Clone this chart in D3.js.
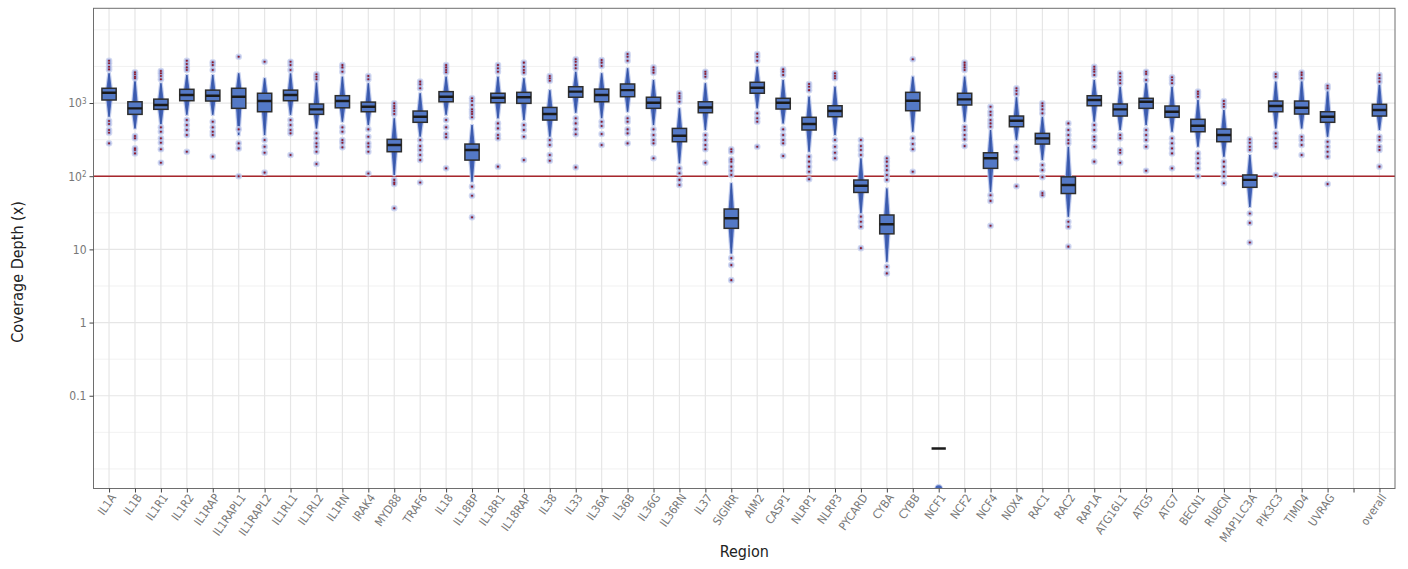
<!DOCTYPE html>
<html>
<head>
<meta charset="utf-8">
<script src="https://cdn.jsdelivr.net/npm/d3@7"></script>
<style>
  body { margin: 0; background: #fff; }
  text { font-family: "DejaVu Sans", sans-serif; font-stretch: condensed; }
</style>
</head>
<body>
<svg id="chart" width="1408" height="569"></svg>
<script>
// Regions on the x axis (a blank slot separates the genes from "overall")
const regions = ["IL1A","IL1B","IL1R1","IL1R2","IL1RAP","IL1RAPL1","IL1RAPL2","IL1RL1","IL1RL2","IL1RN",
  "IRAK4","MYD88","TRAF6","IL18","IL18BP","IL18R1","IL18RAP","IL38","IL33","IL36A",
  "IL36B","IL36G","IL36RN","IL37","SIGIRR","AIM2","CASP1","NLRP1","NLRP3","PYCARD",
  "CYBA","CYBB","NCF1","NCF2","NCF4","NOX4","RAC1","RAC2","RAP1A","ATG16L1",
  "ATG5","ATG7","BECN1","RUBCN","MAP1LC3A","PIK3C3","TIMD4","UVRAG"," ","overall"];

// Extent of the dense column of per-position depths
const spineLow = [650,450,500,690,690,365,365,690,450,555,
  500,104,346,690,84,618,585,346,737,618,
  760,500,150,428,8.8,846,527,216,365,31,
  6.8,405,0.0054,555,61,312,166,28,555,428,
  500,405,253,185,38,450,450,346,null,428];
const spineHigh = [2550,2060,1860,2410,2410,2545,2180,2545,1960,2290,
  1860,618,1360,2290,500,2290,2180,1500,2680,2545,
  2980,2060,846,1860,80,3133,2060,1220,1670,176,
  68,2290,0.0054,2290,428,1220,650,253,2060,1670,
  1960,1670,1099,802,195,1960,2060,1500,null,1860];

// Box statistics
const boxQ1 = [1100,700,820,1075,1065,846,760,1075,700,860,
  760,216,545,1040,166,1010,990,585,1200,1040,
  1220,846,296,737,19.4,1360,828,428,650,60,
  16.3,785,0.019,940,128,474,275,58,918,664,
  846,638,405,296,70.5,760,707,545,null,664];
const boxMedian = [1380,846,940,1290,1260,1220,1065,1290,820,1065,
  890,267,650,1220,228,1180,1200,707,1430,1290,
  1500,1010,357,870,26.6,1620,1010,517,777,74,
  22,1075,0.019,1120,176,573,329,76,1099,820,
  1040,760,489,365,89,910,860,650,null,802];
const boxQ3 = [1590,1040,1130,1540,1500,1590,1360,1500,970,1260,
  1030,319,777,1430,275,1360,1400,870,1670,1550,
  1820,1200,450,1040,35.6,1920,1160,638,918,88.7,
  29.5,1400,0.019,1360,209,664,385,98,1258,970,
  1160,910,599,441,104,1065,1065,760,null,960];

// Outlying positions per region
const outliers = [
  [3780,3490,3130,2880,568,517,428,393,281],
  [2630,2470,2290,2180,354,329,240,228,205],
  [2740,2550,2340,2110,465,405,329,287,233,153],
  [3780,3410,3070,2830,585,500,428,365,216],
  [3600,3300,2830,555,465,405,365,185],
  [4290,437,281,240,100],
  [3670,312,253,209,112],
  [3670,3300,2830,585,500,428,385,195],
  [2470,2290,2110,385,329,281,253,216,147],
  [3300,3070,2680,465,405,312,287,248],
  [2340,2110,437,346,281,253,216,109],
  [990,910,846,777,707,89,82,78,36.5],
  [1960,1800,1590,312,258,228,195,166,82],
  [3300,3070,2830,2630,585,465,377,340,128],
  [1160,1065,940,820,760,707,638,72,54,27.4],
  [3300,2980,2680,527,450,365,329,135],
  [3560,3130,2830,2600,500,428,346,166],
  [2340,2180,2020,312,267,195,163],
  [3960,3670,3300,2980,618,527,437,375,132],
  [3870,3560,3200,555,485,377,267],
  [4670,4290,3780,618,555,437,385,281],
  [3070,2830,2600,437,365,312,281,176],
  [1360,1250,1160,1040,128,110,89,76],
  [2680,2490,2290,365,312,267,233,153],
  [233,216,170,158,135,119,104,7.6,6.1,3.8],
  [4670,4290,3780,723,618,555,253],
  [2880,2680,2410,437,365,312,281,189],
  [1820,1670,1500,185,158,135,115,91],
  [2545,2340,2180,312,253,209,176],
  [312,258,228,195,28,23.9,20.4,10.4],
  [176,158,138,121,104,89,5.8,4.7],
  [3960,329,275,233,115],
  [],
  [3560,3300,3070,2830,474,428,365,319,258],
  [890,760,686,585,527,474,55,46,21],
  [1590,1470,1330,253,216,176,73],
  [990,910,820,723,142,121,97,59,55],
  [527,428,365,312,281,23.9,20.4,10.9],
  [3130,2880,2680,2410,500,428,346,312,253,158],
  [2545,2290,2060,1860,365,329,228,209,153],
  [2680,2490,2060,428,365,312,253,119],
  [2250,2060,1860,329,281,240,205,128],
  [1430,1330,1220,205,176,150,128,100],
  [1065,970,890,158,135,115,100,80],
  [319,287,253,228,31,23,12.4],
  [2490,2290,385,329,281,253,104],
  [2600,2410,2180,346,312,267,195],
  [1720,1590,296,253,216,185,78],
  [],
  [2410,2180,1960,346,312,253,228,135]
];

// Axis settings
const yLimits = [0.0054, 19700];
const yTickValues = [0.1, 1, 10, 100, 1000];
const yMinorValues = [0.01, 0.0316, 0.316, 3.16, 31.6, 316, 3162, 10000];
const thresholdDepth = 100;

const svg = d3.select("#chart");
const panel = { left: 93.5, right: 1395, top: 8.3, bottom: 488.5 };

const x = d3.scalePoint().domain(regions).range([panel.left, panel.right]).padding(0.6);
const y = d3.scaleLog().domain(yLimits).range([panel.bottom, panel.top]);
const step = x.step();
const boxW = step * 0.55;

svg.append("defs").append("clipPath").attr("id", "panelClip")
  .append("rect")
  .attr("x", panel.left).attr("y", panel.top)
  .attr("width", panel.right - panel.left).attr("height", panel.bottom - panel.top);

// Grid
const grid = svg.append("g");
grid.selectAll("line.minor").data(yMinorValues).join("line")
  .attr("x1", panel.left).attr("x2", panel.right)
  .attr("y1", d => y(d)).attr("y2", d => y(d))
  .attr("stroke", "#efefef").attr("stroke-width", 0.8);
grid.selectAll("line.major").data(yTickValues).join("line")
  .attr("x1", panel.left).attr("x2", panel.right)
  .attr("y1", d => y(d)).attr("y2", d => y(d))
  .attr("stroke", "#e6e6e6").attr("stroke-width", 1.2);
grid.selectAll("line.vert").data(regions).join("line")
  .attr("y1", panel.top).attr("y2", panel.bottom)
  .attr("x1", d => x(d)).attr("x2", d => x(d))
  .attr("stroke", "#e6e6e6").attr("stroke-width", 1.2);

// Threshold line
svg.append("line")
  .attr("x1", panel.left).attr("x2", panel.right)
  .attr("y1", y(thresholdDepth)).attr("y2", y(thresholdDepth))
  .attr("stroke", "#a8272d").attr("stroke-width", 1.4);

const rows = regions.map((r, i) => ({
  region: r, lo: spineLow[i], hi: spineHigh[i],
  q1: boxQ1[i], med: boxMedian[i], q3: boxQ3[i], out: outliers[i]
})).filter(d => d.med !== null);

const plot = svg.append("g").attr("clip-path", "url(#panelClip)");

// Dense column of points: a slim spindle from low to high extent
function spindle(d, extra) {
  const cx = x(d.region);
  const yHi = y(d.hi), yLo = y(d.lo), yQ3 = y(d.q3), yQ1 = y(d.q1);
  const wEnd = 0.7 + extra, wMid = 2.6 + extra;
  const pts = [
    [cx - wEnd, yHi - extra], [cx - wMid, yQ3], [cx - wMid, yQ1], [cx - wEnd, yLo + extra],
    [cx + wEnd, yLo + extra], [cx + wMid, yQ1], [cx + wMid, yQ3], [cx + wEnd, yHi - extra]
  ];
  return "M" + pts.map(p => p.join(",")).join("L") + "Z";
}

const spineRows = rows.filter(d => d.hi > d.lo);
const pileRows = rows.filter(d => d.hi === d.lo);

plot.selectAll("path.halo").data(spineRows).join("path")
  .attr("d", d => spindle(d, 1.1))
  .attr("fill", "#bfcaec").attr("opacity", 0.9);
plot.selectAll("path.core").data(spineRows).join("path")
  .attr("d", d => spindle(d, 0))
  .attr("fill", "#4565b9");
plot.selectAll("line.spineMid").data(spineRows).join("line")
  .attr("x1", d => x(d.region)).attr("x2", d => x(d.region))
  .attr("y1", d => y(d.hi)).attr("y2", d => y(d.lo))
  .attr("stroke", "#2b4792").attr("stroke-width", 1).attr("opacity", 0.6);

// Regions whose positions all share one depth
plot.selectAll("circle.pileHalo").data(pileRows).join("circle")
  .attr("cx", d => x(d.region)).attr("cy", d => y(d.lo)).attr("r", 4.4)
  .attr("fill", "#c2cdec");
plot.selectAll("circle.pile").data(pileRows).join("circle")
  .attr("cx", d => x(d.region)).attr("cy", d => y(d.lo)).attr("r", 3.3)
  .attr("fill", "#4565b9");

// Outliers
const outPts = rows.flatMap(d => d.out.map(v => ({ region: d.region, v })));
plot.selectAll("circle.outHalo").data(outPts).join("circle")
  .attr("cx", d => x(d.region)).attr("cy", d => y(d.v)).attr("r", 3.3)
  .attr("fill", "#c9d1ef").attr("opacity", 0.85);
plot.selectAll("circle.outCore").data(outPts).join("circle")
  .attr("cx", d => x(d.region)).attr("cy", d => y(d.v)).attr("r", 2.1)
  .attr("fill", "#98a0d6").attr("opacity", 0.75);
plot.selectAll("circle.outDot").data(outPts).join("circle")
  .attr("cx", d => x(d.region)).attr("cy", d => y(d.v)).attr("r", 1.05)
  .attr("fill", "#8b1a2b");

// Boxes
plot.selectAll("rect.box").data(rows).join("rect")
  .attr("x", d => x(d.region) - boxW / 2)
  .attr("width", boxW)
  .attr("y", d => y(d.q3))
  .attr("height", d => Math.max(0, y(d.q1) - y(d.q3)))
  .attr("fill", "#5479c6")
  .attr("stroke", "#2e2e2e").attr("stroke-width", 1.5);
plot.selectAll("line.median").data(rows).join("line")
  .attr("x1", d => x(d.region) - boxW / 2).attr("x2", d => x(d.region) + boxW / 2)
  .attr("y1", d => y(d.med)).attr("y2", d => y(d.med))
  .attr("stroke", "#1a1a1a").attr("stroke-width", 2.4);

// Panel border
svg.append("rect")
  .attr("x", panel.left).attr("y", panel.top)
  .attr("width", panel.right - panel.left).attr("height", panel.bottom - panel.top)
  .attr("fill", "none").attr("stroke", "#6e6e6e").attr("stroke-width", 1);

// Y axis
const supers = { 100: "2", 1000: "3" };
const yAxis = svg.append("g")
  .attr("transform", `translate(${panel.left},0)`)
  .call(d3.axisLeft(y).tickValues(yTickValues).tickSize(4).tickSizeOuter(0)
    .tickFormat(d => supers[d] ? "10" : (d < 1 ? d3.format(".1f")(d) : d3.format("d")(d))));
yAxis.select(".domain").remove();
yAxis.selectAll(".tick line").attr("stroke", "#444");
yAxis.selectAll(".tick text")
  .attr("fill", "#777").attr("font-size", 12).attr("x", -7)
  .each(function (d) {
    if (supers[d]) {
      d3.select(this).append("tspan").attr("dy", "-0.45em").attr("font-size", 8).text(supers[d]);
    }
  });

// X axis
const xAxis = svg.append("g")
  .attr("transform", `translate(0,${panel.bottom})`)
  .call(d3.axisBottom(x).tickSize(4).tickSizeOuter(0));
xAxis.select(".domain").remove();
xAxis.selectAll(".tick line").attr("stroke", "#444");
xAxis.selectAll(".tick text")
  .attr("fill", "#777").attr("font-size", 11.5)
  .attr("x", 0).attr("y", 0).attr("dy", 0)
  .attr("text-anchor", "end")
  .attr("transform", "translate(7,9) rotate(-55)");

// Axis titles
svg.append("text")
  .attr("x", (panel.left + panel.right) / 2).attr("y", 557)
  .attr("text-anchor", "middle").attr("font-size", 16).attr("fill", "#222")
  .text("Region");
svg.append("text")
  .attr("transform", `translate(23,${272}) rotate(-90)`)
  .attr("text-anchor", "middle").attr("font-size", 16).attr("fill", "#222")
  .text("Coverage Depth (x)");
</script>
</body>
</html>
